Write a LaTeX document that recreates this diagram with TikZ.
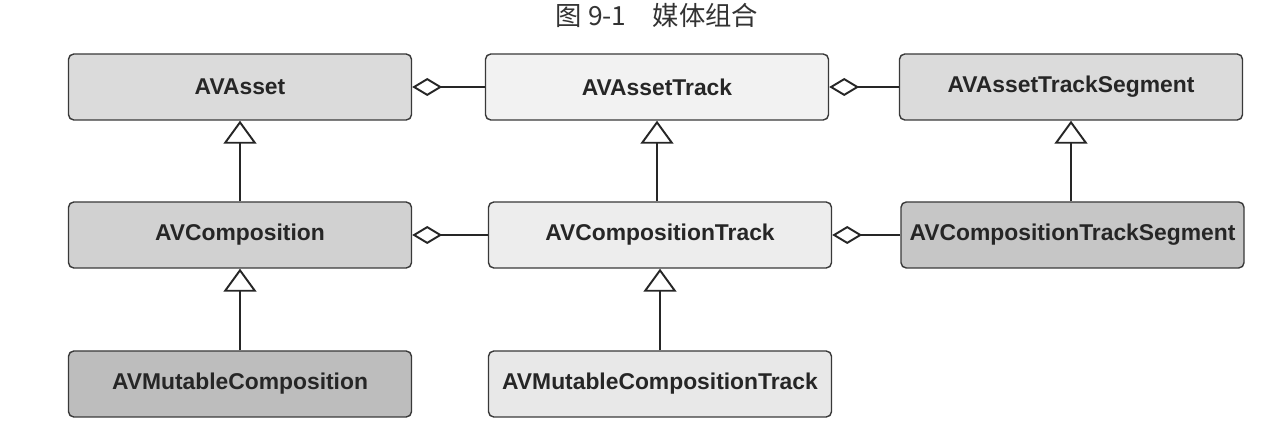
\documentclass[tikz,border=0pt]{standalone}
\usepackage{fontspec}
\newfontfamily\boxfont{Liberation Sans}
\newfontfamily\cjk{Noto Sans CJK SC}
\usepackage{xcolor}
\usepackage{tikz}
\usetikzlibrary{arrows.meta, positioning}
\tikzset{
  classbox/.style={
    draw=gray!45!black, rounded corners=3pt, line width=0.8pt, align=center,
    font=\boxfont\bfseries\fontsize{13}{15}\selectfont, text=black!85,
    minimum width=6.86cm, minimum height=1.32cm, inner sep=2pt
  },
  aggrline/.style={
    -{Diamond[open, length=0.6cm, width=0.36cm, line width=1.1pt]},
    line width=1.1pt, color=black!85
  },
  inheritline/.style={
    -{Triangle[open, length=0.46cm, width=0.66cm, line width=1.1pt]},
    line width=1.1pt, color=black!85
  },
}

\begin{document}
\begin{tikzpicture}
  \useasboundingbox (0,0) rectangle (25.6,8.72);

  % ── Title ──────────────────────────────────────────────────────
  \node[font=\cjk\fontsize{15}{17}\selectfont, text=black!80]
    (title) at (13.14, 8.42) {图 9-1\quad 媒体组合};

  % ── Asset row ──────────────────────────────────────────────────
  \node[classbox, fill=gray!28] (asset) at (4.8, 6.98) {AVAsset};
  \node[classbox, fill=gray!10] (assettrack) at (13.14, 6.98) {AVAssetTrack};
  \node[classbox, fill=gray!28] (assetseg) at (21.42, 6.98)
    {AVAssetTrackSegment};

  \draw[aggrline] (assettrack.west) -- (asset.east);
  \draw[aggrline] (assetseg.west) -- (assettrack.east);

  % ── Composition row ────────────────────────────────────────────
  \node[classbox, fill=gray!36] (comp) at (4.8, 4.02) {AVComposition};
  \node[classbox, fill=gray!14] (comptrack) at (13.2, 4.02)
    {AVCompositionTrack};
  \node[classbox, fill=gray!45] (compseg) at (21.45, 4.02)
    {AVCompositionTrackSegment};

  \draw[aggrline] (comptrack.west) -- (comp.east);
  \draw[aggrline] (compseg.west) -- (comptrack.east);

  \draw[inheritline] (comp.north) -- (asset.south);
  \draw[inheritline] (comptrack.north -| assettrack) -- (assettrack.south);
  \draw[inheritline] (compseg.north -| assetseg) -- (assetseg.south);

  % ── Mutable row ────────────────────────────────────────────────
  \node[classbox, fill=gray!52] (mutcomp) at (4.8, 1.04)
    {AVMutableComposition};
  \node[classbox, fill=gray!18] (muttrack) at (13.2, 1.04)
    {AVMutableCompositionTrack};

  \draw[inheritline] (mutcomp.north) -- (comp.south);
  \draw[inheritline] (muttrack.north) -- (comptrack.south);
\end{tikzpicture}
\end{document}
